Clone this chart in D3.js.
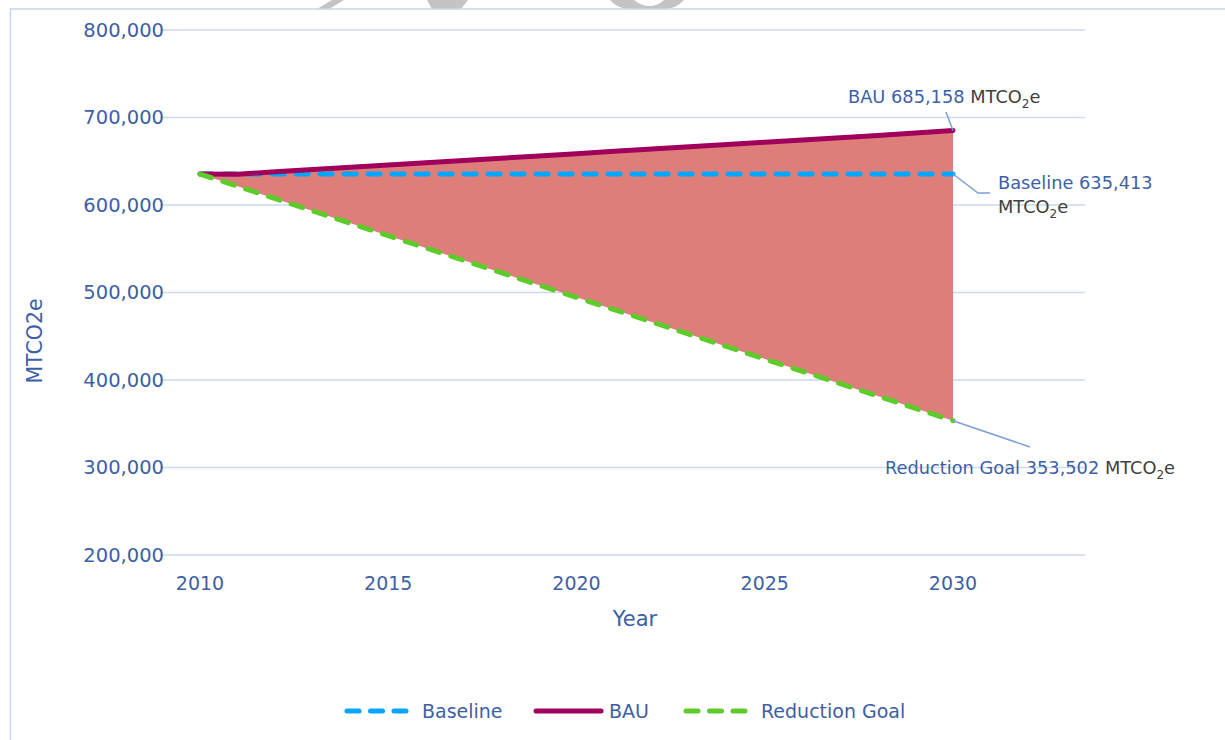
<!DOCTYPE html>
<html>
<head>
<meta charset="utf-8">
<script src="https://cdn.jsdelivr.net/npm/d3@7"></script>
<style>
  body { margin: 0; background: #fff; }
  svg { display: block; font-family: "DejaVu Sans", sans-serif; }
</style>
</head>
<body>
<svg id="chart" width="1225" height="740"></svg>
<script>
// data
var years = [2010, 2011, 2012, 2013, 2014, 2015, 2016, 2017, 2018, 2019, 2020,
             2021, 2022, 2023, 2024, 2025, 2026, 2027, 2028, 2029, 2030];
var baseline = [635413, 635413, 635413, 635413, 635413, 635413, 635413, 635413, 635413, 635413, 635413,
                635413, 635413, 635413, 635413, 635413, 635413, 635413, 635413, 635413, 635413];
var bau = [635413, 635100, 637900, 640500, 643100, 645700, 648300, 650900, 653500, 656100, 658700,
           661300, 663900, 666500, 669100, 671700, 674300, 676900, 679500, 682300, 685158];
var reductionGoal = [635413, 621317, 607221, 593125, 579029, 564932, 550836, 536740, 522644, 508548, 494452,
                     480356, 466260, 452164, 438068, 423971, 409875, 395779, 381683, 367587, 353502];
var yTicks = [200000, 300000, 400000, 500000, 600000, 700000, 800000];
var xTicks = [2010, 2015, 2020, 2025, 2030];

var blueText = "#3d5fa6";
var darkText = "#404040";
var gridColor = "#cdd9ee";
var leaderColor = "#7f9fd8";

var svg = d3.select("#chart");

// faint watermark fragments cut off by the frame
var wm = svg.append("g").attr("fill", "#c4c4c4");
wm.append("path").attr("d", "M332,0 L344,0 L329,9 L317,9 Z");
wm.append("path").attr("d", "M427,0 L468,0 L461,9 L432,9 Z");
wm.append("path")
  .attr("fill-rule", "evenodd")
  .attr("d", "M610,0 C615,6 622,9 632,9 L664,9 C673,9 679,5 684,0 Z " +
             "M634,0 C639,4 644,6 649,6 C655,6 660,4 664,0 Z");

// chart frame
svg.append("path")
  .attr("d", "M10.5,740 L10.5,9 L1225,9")
  .attr("fill", "none")
  .attr("stroke", "#c9d6ec")
  .attr("stroke-width", 1.5);

var x = d3.scaleLinear().domain([2010, 2030]).range([200, 953]);
var y = d3.scaleLinear().domain([200000, 800000]).range([555, 30]);
var plotLeft = 160, plotRight = 1085;

// gridlines
svg.append("g").selectAll("line")
  .data(yTicks)
  .enter().append("line")
  .attr("x1", plotLeft).attr("x2", plotRight)
  .attr("y1", function(d) { return y(d); })
  .attr("y2", function(d) { return y(d); })
  .attr("stroke", gridColor)
  .attr("stroke-width", 1.5);

// y tick labels
var fmt = d3.format(",");
svg.append("g").selectAll("text")
  .data(yTicks)
  .enter().append("text")
  .attr("x", 164)
  .attr("y", function(d) { return y(d); })
  .attr("dy", "0.35em")
  .attr("text-anchor", "end")
  .attr("fill", blueText)
  .attr("font-size", 19.5)
  .text(function(d) { return fmt(d); });

// x tick labels
svg.append("g").selectAll("text")
  .data(xTicks)
  .enter().append("text")
  .attr("x", function(d) { return x(d); })
  .attr("y", 583)
  .attr("dy", "0.35em")
  .attr("text-anchor", "middle")
  .attr("fill", blueText)
  .attr("font-size", 19)
  .text(function(d) { return d; });

// axis titles
svg.append("text")
  .attr("x", 635).attr("y", 619)
  .attr("dy", "0.35em")
  .attr("text-anchor", "middle")
  .attr("fill", blueText)
  .attr("font-size", 21)
  .text("Year");

svg.append("text")
  .attr("transform", "translate(35,341) rotate(-90)")
  .attr("dy", "0.35em")
  .attr("text-anchor", "middle")
  .attr("fill", blueText)
  .attr("font-size", 20.5)
  .text("MTCO2e");

// shaded gap between BAU and reduction goal
var rows = years.map(function(yr, i) {
  return { year: yr, baseline: baseline[i], bau: bau[i], goal: reductionGoal[i] };
});

var area = d3.area()
  .x(function(d) { return x(d.year); })
  .y0(function(d) { return y(d.goal); })
  .y1(function(d) { return y(d.bau); });

svg.append("path")
  .datum(rows)
  .attr("d", area)
  .attr("fill", "#de7e7b");

function lineFor(key) {
  return d3.line()
    .x(function(d) { return x(d.year); })
    .y(function(d) { return y(d[key]); });
}

var series = [
  { key: "baseline", name: "Baseline", color: "#00a6ff", dash: "12,12" },
  { key: "bau", name: "BAU", color: "#a0005c", dash: null },
  { key: "goal", name: "Reduction Goal", color: "#5dcc2b", dash: "12,12" }
];

series.forEach(function(s) {
  svg.append("path")
    .datum(rows)
    .attr("d", lineFor(s.key))
    .attr("fill", "none")
    .attr("stroke", s.color)
    .attr("stroke-width", 5)
    .attr("stroke-linecap", "round")
    .attr("stroke-linejoin", "round")
    .attr("stroke-dasharray", s.dash);
});

// data labels with leader lines
var last = rows[rows.length - 1];
var ex = x(last.year);
var labelSize = 17.8;

function leader(points) {
  svg.append("path")
    .attr("d", d3.line()(points))
    .attr("fill", "none")
    .attr("stroke", leaderColor)
    .attr("stroke-width", 1.5);
}

function unit(t) {
  t.append("tspan").attr("fill", darkText).text("MTCO");
  t.append("tspan").attr("fill", darkText).attr("font-size", 12).attr("dy", 5).text("2");
  t.append("tspan").attr("fill", darkText).attr("dy", -5).text("e");
}

function dataLabel(tx, ty, name, value) {
  var t = svg.append("text")
    .attr("x", tx).attr("y", ty)
    .attr("font-size", labelSize);
  t.append("tspan").attr("fill", blueText).text(name + " " + fmt(value) + " ");
  unit(t);
}

leader([[ex, y(last.bau)], [946, 112]]);
dataLabel(848, 103, "BAU", last.bau);

leader([[ex, y(last.baseline)], [978, 193], [990, 193]]);
svg.append("text").attr("x", 998).attr("y", 189).attr("font-size", labelSize)
  .attr("fill", blueText).text("Baseline " + fmt(last.baseline));
unit(svg.append("text").attr("x", 998).attr("y", 213).attr("font-size", labelSize));

leader([[ex, y(last.goal)], [1030, 447]]);
dataLabel(885, 474, "Reduction Goal", last.goal);

// legend
var legendItems = [
  { s: series[0], x0: 347, x1: 406, tx: 422 },
  { s: series[1], x0: 536, x1: 601, tx: 609 },
  { s: series[2], x0: 686, x1: 745, tx: 761 }
];
var lg = svg.append("g");
legendItems.forEach(function(it) {
  lg.append("line")
    .attr("x1", it.x0).attr("x2", it.x1)
    .attr("y1", 711).attr("y2", 711)
    .attr("stroke", it.s.color)
    .attr("stroke-width", 5)
    .attr("stroke-linecap", "round")
    .attr("stroke-dasharray", it.s.dash ? "12,11.5" : null);
  lg.append("text")
    .attr("x", it.tx).attr("y", 711)
    .attr("dy", "0.35em")
    .attr("fill", blueText)
    .attr("font-size", 19)
    .text(it.s.name);
});
</script>
</body>
</html>
